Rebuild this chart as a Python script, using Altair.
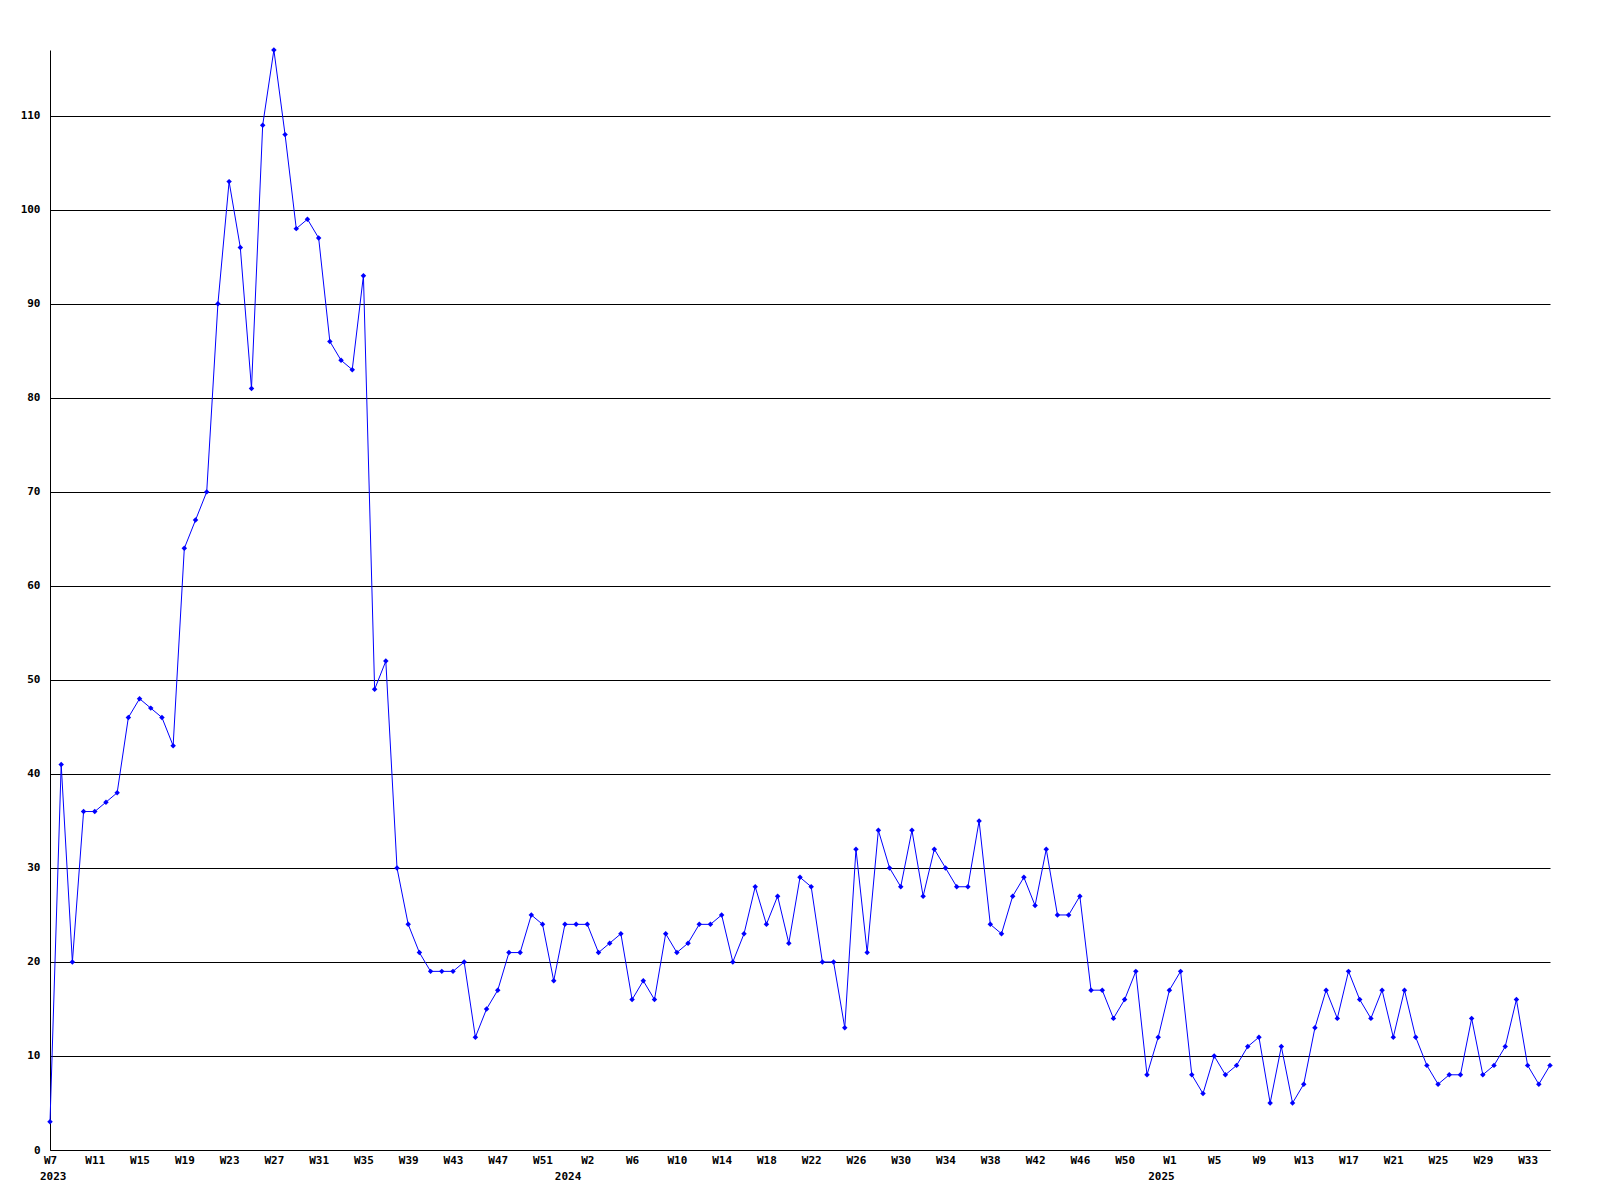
import json
import altair as alt
import pandas as pd

# weekly counts, 2023 W7 .. 2025 W35
counts = [
    3, 41, 20, 36, 36, 37, 38, 46, 48, 47,
    46, 43, 64, 67, 70, 90, 103, 96, 81, 109,
    117, 108, 98, 99, 97, 86, 84, 83, 93, 49,
    52, 30, 24, 21, 19, 19, 19, 20, 12, 15,
    17, 21, 21, 25, 24, 18, 24, 24, 24, 21,
    22, 23, 16, 18, 16, 23, 21, 22, 24, 24,
    25, 20, 23, 28, 24, 27, 22, 29, 28, 20,
    20, 13, 32, 21, 34, 30, 28, 34, 27, 32,
    30, 28, 28, 35, 24, 23, 27, 29, 26, 32,
    25, 25, 27, 17, 17, 14, 16, 19, 8, 12,
    17, 19, 8, 6, 10, 8, 9, 11, 12, 5,
    11, 5, 7, 13, 17, 14, 19, 16, 14, 17,
    12, 17, 12, 9, 7, 8, 8, 14, 8, 9,
    11, 16, 9, 7, 9,
]

year_labels = ["2023", "2024", "2025"]
first_week = [7, 1, 1]
last_week = [53, 53, 35]

tick_labels = [
    "W7", "W11", "W15", "W19", "W23", "W27", "W31", "W35", "W39", "W43", "W47", "W51",
    "W2", "W6", "W10", "W14", "W18", "W22", "W26", "W30", "W34", "W38", "W42", "W46", "W50",
    "W1", "W5", "W9", "W13", "W17", "W21", "W25", "W29", "W33",
]
tick_step = 4
y_ticks = [0, 10, 20, 30, 40, 50, 60, 70, 80, 90, 100, 110]

rows = []
for yr, a, b in zip(year_labels, first_week, last_week):
    for w in range(a, b + 1):
        rows.append((yr, w))
rows = rows[: len(counts)]

df = pd.DataFrame({
    "idx": list(range(len(counts))),
    "year": [r[0] for r in rows],
    "week": [r[1] for r in rows],
    "count": counts,
})

year_first_idx = [next(i for i, r in enumerate(rows) if r[0] == yr) for yr in year_labels]
year_df = pd.DataFrame({"idx": year_first_idx, "year": year_labels})

disp_labels = [t + "\u00a0" if len(t) == 2 else t for t in tick_labels]
label_expr = json.dumps(disp_labels, ensure_ascii=False) + f"[round(datum.value/{tick_step})]"
tick_vals = list(range(0, len(counts), tick_step))[: len(tick_labels)]

FONT = "DejaVu Sans Mono"

x_scale = alt.Scale(domain=[0, len(counts) - 1], nice=False, zero=False)
y_scale = alt.Scale(domain=[0, max(counts)], nice=False, zero=True)

x_axis = alt.Axis(
    values=tick_vals, labelExpr=label_expr, grid=False, ticks=False,
    domainColor="black", domainWidth=1, labelFont=FONT, labelFontWeight="bold",
    labelFontSize=11, labelColor="black", labelPadding=4, title=None,
    labelOverlap=False, labelFlush=False, labelBound=False,
)
y_axis = alt.Axis(
    values=y_ticks, grid=True, gridColor="black", gridWidth=1, gridOpacity=1,
    ticks=False, domainColor="black", domainWidth=1, labelFont=FONT,
    labelFontWeight="bold", labelFontSize=11, labelColor="black", labelPadding=10,
    title=None, labelOverlap=False, labelFlush=False,
)

base = alt.Chart(df)
line = base.mark_line(color="#0000ff", strokeWidth=1).encode(
    x=alt.X("idx:Q", scale=x_scale, axis=x_axis),
    y=alt.Y("count:Q", scale=y_scale, axis=y_axis),
)
points = base.mark_point(shape="diamond", filled=True, size=30, color="#0000ff", opacity=1).encode(
    x=alt.X("idx:Q", scale=x_scale),
    y=alt.Y("count:Q", scale=y_scale),
)

yr_first = alt.Chart(year_df.iloc[:1]).mark_text(
    font=FONT, fontWeight="bold", fontSize=11, color="black", align="left", baseline="middle", dx=-10
).encode(x=alt.X("idx:Q", scale=x_scale), y=alt.value(1127), text="year:N")
yr_rest = alt.Chart(year_df.iloc[1:]).mark_text(
    font=FONT, fontWeight="bold", fontSize=11, color="black", align="center", baseline="middle", dx=-8
).encode(x=alt.X("idx:Q", scale=x_scale), y=alt.value(1127), text="year:N")

chart = alt.layer(line, points, yr_first, yr_rest).properties(
    width=1500, height=1100,
    autosize=alt.AutoSizeParams(type="none"),
    padding={"left": 42, "top": 42, "right": 42, "bottom": 50},
    background="white",
).configure_view(stroke=None)

chart.save("out.html", embed_options={"renderer": "svg", "actions": False})
